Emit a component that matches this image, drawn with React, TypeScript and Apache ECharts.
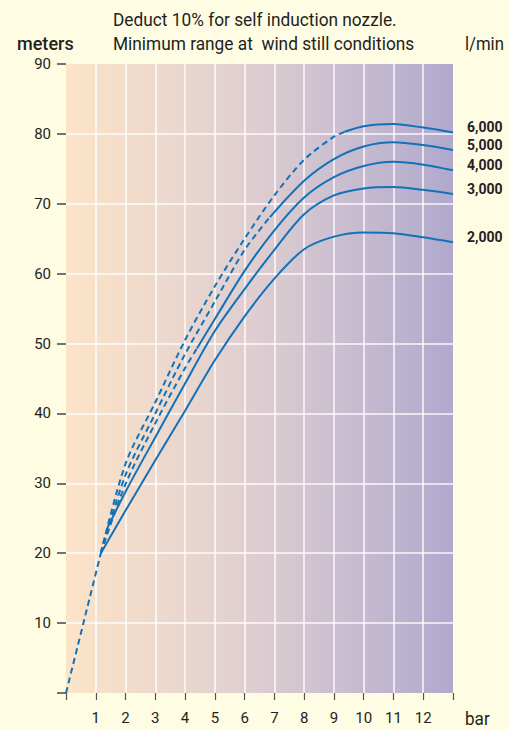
import React, { useEffect, useRef } from "react";
import * as echarts from "echarts";

// ---- data ----
const xMin = 0;
const xMax = 13;
const yMin = 0;
const yMax = 90;

// extrapolated line from the origin
const originX = [0, 1.17];
const originY = [0, 20];

// l/min curves: x = pressure (bar), y = range (meters); split = start of solid part
const flow2000X = [1.17, 2, 3, 4, 5, 6, 7, 8, 9, 10, 11, 12, 13];
const flow2000Y = [20, 26.1, 33.3, 40.4, 47.6, 53.9, 59.3, 63.5, 65.3, 65.9, 65.8, 65.2, 64.5];
const flow2000Split = 1.17;

const flow3000X = [1.17, 1.39, 2, 3, 4, 5, 6, 7, 8, 9, 10, 11, 12, 13];
const flow3000Y = [20, 23.6, 28.8, 36.6, 44.3, 51.8, 57.8, 63.4, 68.5, 71.2, 72.2, 72.4, 72.0, 71.4];
const flow3000Split = 1.39;

const flow4000X = [1.17, 2, 3, 4, 4.4, 5, 6, 7, 8, 9, 10, 11, 12, 13];
const flow4000Y = [20, 29.9, 38.6, 46.5, 49.3, 53.5, 60.4, 66.2, 70.9, 73.8, 75.4, 76.0, 75.6, 74.8];
const flow4000Split = 4.4;

const flow5000X = [1.17, 2, 3, 4, 5, 6, 6.85, 8, 9, 10, 11, 12, 13];
const flow5000Y = [20, 31.2, 40.0, 48.5, 56.0, 63.4, 68.1, 73.3, 76.4, 78.2, 78.8, 78.4, 77.7];
const flow5000Split = 6.85;

const flow6000X = [1.17, 2, 3, 4, 5, 6, 7, 8, 9, 9.36, 10, 11, 12, 13];
const flow6000Y = [20, 32.8, 41.6, 50.5, 58.2, 65.0, 71.2, 76.3, 79.6, 80.3, 81.1, 81.4, 80.9, 80.2];
const flow6000Split = 9.36;

const flowLabels = ["2,000", "3,000", "4,000", "5,000", "6,000"];

const titleLine1 = "Deduct 10% for self induction nozzle.";
const titleLine2 = "Minimum range at  wind still conditions";
const yAxisName = "meters";
const xAxisName = "bar";
const flowUnit = "l/min";

// ---- styles ----
const FONT = 'Roboto, "Liberation Sans", sans-serif';
const LINE = "#1172B9";
const TEXT = "#231F20";
const PAGE = "#FFFCE4";

function buildCurve(xs: number[], ys: number[], split: number, label: string) {
  const pts = xs.map((x, i) => [x, ys[i]]);
  const dashed = pts.filter((p) => p[0] <= split);
  const solid = pts.filter((p) => p[0] >= split);
  const out: any[] = [];
  if (dashed.length > 1) {
    out.push({
      type: "line",
      data: dashed,
      symbol: "none",
      showSymbol: false,
      smooth: 0.3,
      silent: true,
      lineStyle: { color: LINE, width: 2, type: [6, 4] },
    });
  }
  out.push({
    type: "line",
    data: solid,
    symbol: "none",
    showSymbol: false,
    smooth: 0.3,
    silent: true,
    lineStyle: { color: LINE, width: 2, type: "solid" },
    endLabel: {
      show: true,
      formatter: label,
      color: TEXT,
      fontFamily: FONT,
      fontSize: 14,
      fontWeight: "bold",
      offset: [6, -5],
    },
  });
  return out;
}

export default function App() {
  const ref = useRef<HTMLDivElement>(null);

  useEffect(() => {
    document.body.style.margin = "0";
    document.body.style.background = PAGE;
    const chart = echarts.init(ref.current!, null, { renderer: "svg" });

    const series: any[] = [
      {
        type: "line",
        data: originX.map((x, i) => [x, originY[i]]),
        symbol: "none",
        showSymbol: false,
        silent: true,
        lineStyle: { color: LINE, width: 2, type: [6, 4] },
      },
      ...buildCurve(flow2000X, flow2000Y, flow2000Split, flowLabels[0]),
      ...buildCurve(flow3000X, flow3000Y, flow3000Split, flowLabels[1]),
      ...buildCurve(flow4000X, flow4000Y, flow4000Split, flowLabels[2]),
      ...buildCurve(flow5000X, flow5000Y, flow5000Split, flowLabels[3]),
      ...buildCurve(flow6000X, flow6000Y, flow6000Split, flowLabels[4]),
    ];

    const txt = (text: string, x: number, y: number, size: number, sx: number, weight: any = "normal") => ({
      type: "text",
      x,
      y,
      scaleX: sx,
      silent: true,
      style: {
        text,
        fill: TEXT,
        fontFamily: FONT,
        fontSize: size,
        fontWeight: weight,
        textVerticalAlign: "middle",
        verticalAlign: "middle",
      },
    });

    chart.setOption({
      animation: false,
      backgroundColor: PAGE,
      grid: {
        left: 66,
        right: 56,
        top: 64,
        bottom: 36,
        show: true,
        borderWidth: 0,
        backgroundColor: new echarts.graphic.LinearGradient(0, 0, 1, 0, [
          { offset: 0, color: "#FCE4C8" },
          { offset: 0.5, color: "#DDCDD1" },
          { offset: 1, color: "#B0A9CD" },
        ]),
      },
      xAxis: {
        type: "value",
        min: xMin,
        max: xMax,
        interval: 1,
        axisLine: { show: false },
        axisTick: { show: true, length: 7, lineStyle: { color: "#555", width: 1.2 } },
        axisLabel: {
          margin: 17,
          color: TEXT,
          fontFamily: FONT,
          fontSize: 15,
          formatter: (v: number) => (v >= 1 && v <= 12 ? String(v) : ""),
        },
        splitLine: {
          show: true,
          showMinLine: false,
          showMaxLine: false,
          lineStyle: { color: "rgba(255,255,255,0.9)", width: 1.5 },
        },
      },
      yAxis: {
        type: "value",
        min: yMin,
        max: yMax,
        interval: 10,
        axisLine: { show: false },
        axisTick: { show: true, length: 9, lineStyle: { color: "#444", width: 1.5 } },
        axisLabel: {
          margin: 15,
          color: TEXT,
          fontFamily: FONT,
          fontSize: 15,
          formatter: (v: number) => (v === 0 ? "" : String(v)),
        },
        splitLine: {
          show: true,
          showMinLine: false,
          showMaxLine: false,
          lineStyle: { color: "rgba(255,255,255,0.9)", width: 1.5 },
        },
      },
      graphic: [
        txt(titleLine1, 113, 19, 19, 0.91),
        txt(titleLine2, 113, 43, 19, 0.91),
        txt(yAxisName, 17, 43.5, 19, 0.95, 500),
        txt(flowUnit, 465, 43.5, 19, 0.88),
        txt(xAxisName, 465, 718, 19, 0.9),
      ],
      series,
    });

    return () => chart.dispose();
  }, []);

  return (
    <div
      ref={ref}
      style={{ position: "fixed", left: 0, top: 0, width: 509, height: 729, background: PAGE }}
    />
  );
}
